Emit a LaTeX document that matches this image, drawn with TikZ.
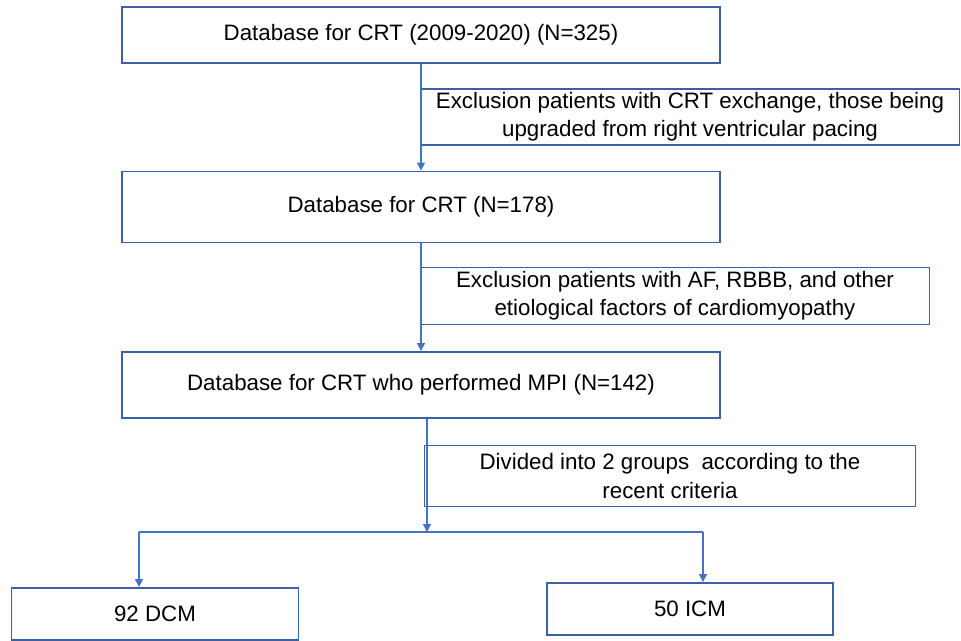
\documentclass[tikz,border=0pt]{standalone}
\usepackage{fontspec}
\setmainfont{Liberation Sans}
\usetikzlibrary{arrows.meta, positioning}
\definecolor{flowblue}{RGB}{68, 114, 196}
\definecolor{boxblue}{RGB}{60, 95, 165}

\begin{document}
\begin{tikzpicture}[x=0.02cm, y=-0.02cm,
        dbbox/.style={rectangle, draw=boxblue, line width=1.1pt, inner sep=0pt, font=\fontsize{12.7}{16}\selectfont, align=center},
        notebox/.style={rectangle, draw=boxblue, line width=1pt, inner sep=0pt, font=\fontsize{12.7}{16}\selectfont, align=center},
        conn/.style={-{Triangle[length=1.6mm, width=1.6mm]}, flowblue, line width=0.9pt},
        branch/.style={flowblue, line width=0.9pt}
      ]
        \useasboundingbox (0,0) rectangle (961,640);
        % main boxes
        \node[dbbox, minimum width=11.96cm, minimum height=1.12cm] (dbAll) at (421,35) {Database for CRT (2009-2020) (N=325)};
        \node[dbbox, minimum width=11.96cm, minimum height=1.42cm] (dbCrt) at (421,207) {Database for CRT (N=178)};
        \node[dbbox, minimum width=11.96cm, minimum height=1.32cm] (dbMpi) at (421,385) {Database for CRT who performed MPI (N=142)};
        % exclusion notes
        \node[notebox, minimum width=10.78cm, minimum height=1.12cm] (exclA) at (690,117) {Exclusion patients with CRT exchange, those being\\ upgraded from right ventricular pacing};
        \node[notebox, minimum width=10.18cm, minimum height=1.14cm] (exclB) at (675,296) {Exclusion patients with AF, RBBB, and other\\ etiological factors of cardiomyopathy};
        \node[notebox, minimum width=9.82cm, minimum height=1.22cm] (split) at (670,476) {Divided into 2 groups\ \ according to the\\ recent criteria};
        % groups
        \node[dbbox, minimum width=5.74cm, minimum height=1.04cm] (dcm) at (155,614) {92 DCM};
        \node[dbbox, minimum width=5.72cm, minimum height=1.04cm] (icm) at (690,609) {50 ICM};
        \coordinate (fork) at (427,532);
        \coordinate (forkL) at (139,532);
        \coordinate (forkR) at (703,532);
        \draw[conn] (dbAll) -- (dbCrt);
        \draw[conn] (dbCrt) -- (dbMpi);
        \draw[conn] (dbMpi.south -| fork) -- (fork);
        \draw[branch] (forkL) -- (forkR);
        \draw[conn] (forkL) -- (forkL |- dcm.north);
        \draw[conn] (forkR) -- (forkR |- icm.north);
      \end{tikzpicture}
\end{document}
